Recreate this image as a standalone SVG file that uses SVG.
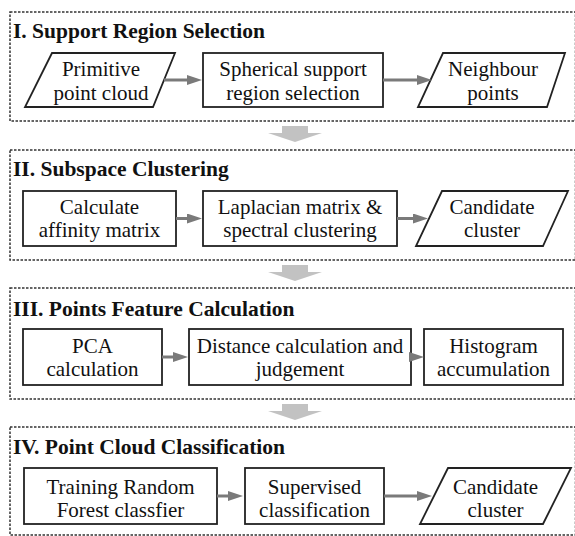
<svg xmlns="http://www.w3.org/2000/svg" width="575" height="536" viewBox="0 0 575 536">
<style>
  .sec { fill: none; stroke: #333; stroke-width: 1.5; stroke-dasharray: 2.5 1.5; }
  .title { font-family: 'Liberation Serif', 'DejaVu Serif', serif; font-weight: bold; font-size: 21.5px; fill: #111; }
  .box { fill: #fff; stroke: #222; stroke-width: 1.8; }
  .lbl { font-family: 'Liberation Serif', 'DejaVu Serif', serif; font-size: 21px; fill: #111; text-anchor: middle; }
  .conn { stroke: #7a7a7a; stroke-width: 3; fill: none; marker-end: url(#ah); }
  .block { fill: #c2c2c2; }
</style>
<defs>
  <marker id="ah" markerUnits="userSpaceOnUse" markerWidth="15" markerHeight="10" refX="3" refY="5" orient="auto">
    <path d="M0,0 L15,5 L0,10 z" fill="#7a7a7a"/>
  </marker>
</defs>
<rect width="575" height="536" fill="#fff"/>

<!-- Section I -->
<g id="section1">
  <rect class="sec" x="10" y="12" width="565.5" height="109"/>
  <text class="title" x="13" y="38">I. Support Region Selection</text>
</g>
<g id="n1">
  <polygon class="box" points="52,53 175,53 153,107 25,107"/>
  <text class="lbl" x="101" y="76">Primitive</text>
  <text class="lbl" x="101" y="100">point cloud</text>
</g>
<g id="n2">
  <rect class="box" x="203" y="53" width="180" height="54"/>
  <text class="lbl" x="293" y="76">Spherical support</text>
  <text class="lbl" x="293" y="100">region selection</text>
</g>
<g id="n3">
  <polygon class="box" points="443,53 565,53 547,107 418,107"/>
  <text class="lbl" x="493" y="76">Neighbour</text>
  <text class="lbl" x="493" y="100">points</text>
</g>

<!-- Section II -->
<g id="section2">
  <rect class="sec" x="10" y="150" width="565.5" height="110"/>
  <text class="title" x="13" y="176">II. Subspace Clustering</text>
</g>
<g id="n4">
  <rect class="box" x="23" y="191" width="153" height="55"/>
  <text class="lbl" x="99.5" y="213.5">Calculate</text>
  <text class="lbl" x="99.5" y="236.5">affinity matrix</text>
</g>
<g id="n5">
  <rect class="box" x="203" y="191" width="194" height="55"/>
  <text class="lbl" x="300" y="213.5">Laplacian matrix &amp;</text>
  <text class="lbl" x="300" y="236.5">spectral clustering</text>
</g>
<g id="n6">
  <polygon class="box" points="442,191 568,191 543,246 416,246"/>
  <text class="lbl" x="492" y="213.5">Candidate</text>
  <text class="lbl" x="492" y="236.5">cluster</text>
</g>

<!-- Section III -->
<g id="section3">
  <rect class="sec" x="10" y="288" width="565.5" height="111"/>
  <text class="title" x="13" y="316">III. Points Feature Calculation</text>
</g>
<g id="n7">
  <rect class="box" x="23" y="329" width="139" height="56"/>
  <text class="lbl" x="92.5" y="352.5">PCA</text>
  <text class="lbl" x="92.5" y="375.5">calculation</text>
</g>
<g id="n8">
  <rect class="box" x="189" y="329" width="222" height="56"/>
  <text class="lbl" x="300" y="352.5">Distance calculation and</text>
  <text class="lbl" x="300" y="375.5">judgement</text>
</g>
<g id="n9">
  <rect class="box" x="424" y="329" width="139" height="56"/>
  <text class="lbl" x="493.5" y="352.5">Histogram</text>
  <text class="lbl" x="493.5" y="375.5">accumulation</text>
</g>

<!-- Section IV -->
<g id="section4">
  <rect class="sec" x="10" y="427" width="565.5" height="108"/>
  <text class="title" x="13" y="454">IV. Point Cloud Classification</text>
</g>
<g id="n10">
  <rect class="box" x="24" y="468" width="193" height="56"/>
  <text class="lbl" x="120.5" y="494">Training Random</text>
  <text class="lbl" x="120.5" y="517">Forest classfier</text>
</g>
<g id="n11">
  <rect class="box" x="245" y="468" width="139" height="56"/>
  <text class="lbl" x="314.5" y="494">Supervised</text>
  <text class="lbl" x="314.5" y="517">classification</text>
</g>
<g id="n12">
  <polygon class="box" points="448,468 571,468 543,524 420,524"/>
  <text class="lbl" x="495.5" y="494">Candidate</text>
  <text class="lbl" x="495.5" y="517">cluster</text>
</g>

<!-- Connectors -->
<g id="connectors">
  <line class="conn" x1="164" y1="80" x2="190" y2="80"/>
  <line class="conn" x1="383" y1="80" x2="420" y2="80"/>
  <line class="conn" x1="176" y1="218.5" x2="190" y2="218.5"/>
  <line class="conn" x1="397" y1="218.5" x2="416" y2="218.5"/>
  <line class="conn" x1="162" y1="357" x2="176" y2="357"/>
  <line class="conn" x1="411" y1="357" x2="412" y2="357"/>
  <line class="conn" x1="217" y1="496" x2="231" y2="496"/>
  <line class="conn" x1="384" y1="496" x2="420" y2="496"/>
  <polygon class="block" points="282,126 308,126 308,133 322,133 295,142 268,133 282,133"/>
  <polygon class="block" points="282,265 308,265 308,272 322,272 295,281 268,272 282,272"/>
  <polygon class="block" points="282,404 308,404 308,411 322,411 295,420 268,411 282,411"/>
</g>
</svg>
